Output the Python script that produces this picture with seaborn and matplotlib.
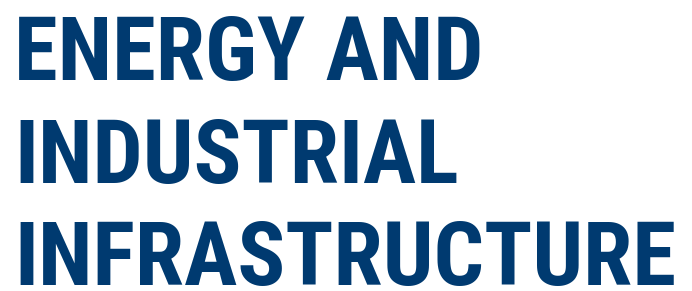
import matplotlib.pyplot as plt
import seaborn as sns

# --------------------------------------
# TEXT
# --------------------------------------

lines = ["ENERGY AND", "INDUSTRIAL", "INFRASTRUCTURE"]
baselines_px = [80, 183, 285]

sns.set_theme(style="white")
plt.rcParams["font.family"] = ["Roboto Condensed", "Liberation Sans", "DejaVu Sans"]

fig = plt.figure(figsize=(6.92, 2.91), dpi=100)
ax = fig.add_axes([0, 0, 1, 1])
ax.set_xlim(0, 692)
ax.set_ylim(291, 0)
ax.axis("off")

for line, y in zip(lines, baselines_px):
    ax.text(
        14, y, line,
        fontsize=64,
        fontweight="bold",
        color="#003a70",
        ha="left",
        va="baseline"
    )

plt.savefig("out.png", dpi=100)
